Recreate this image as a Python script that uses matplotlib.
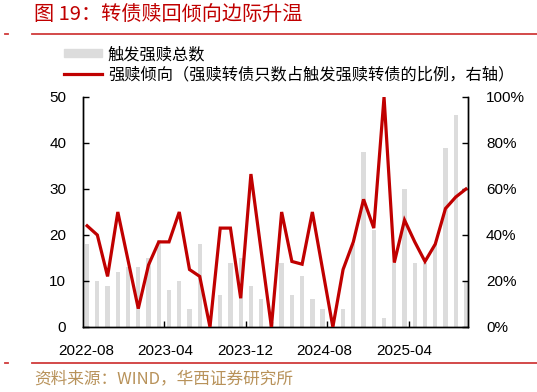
import matplotlib
matplotlib.use("Agg")
import matplotlib.pyplot as plt
import numpy as np
from matplotlib.lines import Line2D

plt.rcParams['font.family'] = ['Noto Sans CJK SC', 'DejaVu Sans']

# ---- data ----
months = ["2022-08", "2022-09", "2022-10", "2022-11", "2022-12", "2023-01", "2023-02",
          "2023-03", "2023-04", "2023-05", "2023-06", "2023-07", "2023-08", "2023-09",
          "2023-10", "2023-11", "2023-12", "2024-01", "2024-02", "2024-03", "2024-04",
          "2024-05", "2024-06", "2024-07", "2024-08", "2024-09", "2024-10", "2024-11",
          "2024-12", "2025-01", "2025-02", "2025-03", "2025-04", "2025-05", "2025-06",
          "2025-07", "2025-08", "2025-09"]
trigger_total = [18, 10, 9, 12, 13, 13, 15, 19, 8, 10, 4, 18, 1, 7, 14, 15, 9, 6, 1,
                 14, 7, 11, 6, 4, 1, 4, 18, 38, 21, 2, 14, 30, 14, 14, 18, 39, 46, 10]
redeem_ratio = [44, 40, 22, 50, 29, 8, 27, 37, 37, 50, 25, 22, 0, 43, 43, 12.5, 66.5, 33, 0,
                50, 28.5, 27.3, 50, 25, 0, 25, 37, 55.5, 43, 100, 28, 46.5, 37, 28.5, 36,
                51.5, 56.5, 60]
tick_labels = ["2022-08", "2023-04", "2023-12", "2024-08", "2025-04"]
left_ticks = [0, 10, 20, 30, 40, 50]
right_ticks = [0, 20, 40, 60, 80, 100]

title = "图 19：转债赎回倾向边际升温"
bar_label = "触发强赎总数"
line_label = "强赎倾向（强赎转债只数占触发强赎转债的比例，右轴）"
source = "资料来源：WIND，华西证券研究所"

RED = "#C00000"
W, H = 537, 392
fig = plt.figure(figsize=(W / 100, H / 100), dpi=100)

ax = fig.add_axes([83 / W, 1 - 327 / H, (468 - 83) / W, (327 - 97) / H])
x = np.arange(len(months))
ax.bar(x, trigger_total, width=0.42, color="#DCDCDC", zorder=1)
ax.set_ylim(0, 50)
ax.set_xlim(-0.4, len(months) - 1 + 0.2)
ax.set_yticks(left_ticks)

ax2 = ax.twinx()
ax2.plot(x, redeem_ratio, color=RED, lw=2.3, zorder=3, solid_joinstyle='miter')
ax2.set_ylim(0, 100)
ax2.set_yticks(right_ticks)
ax2.set_yticklabels([f"{v}%" for v in right_ticks])

lab_pos = np.arange(len(tick_labels)) * 8 * 0.97 - 0.1
ax.set_xticks(lab_pos)
ax.set_xticklabels(tick_labels)
ax.set_xticks(np.arange(1, len(tick_labels)) * 7.95 - 0.4, minor=True)

for a in (ax, ax2):
    a.spines['top'].set_visible(False)
    for s in a.spines.values():
        s.set_color("black")
        s.set_linewidth(1.0)
ax.tick_params(axis='y', direction='in', length=4, width=1, pad=12, labelsize=11)
ax2.tick_params(axis='y', direction='in', length=4, width=1, pad=13, labelsize=11)
ax.tick_params(axis='x', which='major', length=0, pad=12, labelsize=11)
ax.tick_params(axis='x', which='minor', direction='in', length=4, width=1)
for lbl in ax.get_xticklabels() + ax.get_yticklabels() + ax2.get_yticklabels():
    lbl.set_fontfamily("Liberation Sans")

# legend
handles = [plt.Rectangle((0, 0), 1, 1, color="#DCDCDC"),
           Line2D([0], [0], color=RED, lw=2.3)]
fig.legend(handles, [bar_label, line_label], loc="upper left",
           bbox_to_anchor=(64 / W, 1 - 46 / H), frameon=False,
           prop=dict(family="Noto Sans CJK SC", size=11.7),
           handlelength=2.35, handleheight=0.35, handletextpad=0.35,
           labelspacing=0.2, borderpad=0, borderaxespad=0)

# title, rules and source
fig.text(34 / W, 1 - 15 / H, title, color=RED, fontsize=14.5, va="center", ha="left")
fig.add_artist(Line2D([32 / W, 1], [1 - 34 / H] * 2, color="#D03A3A", lw=1.3))
fig.add_artist(Line2D([5 / W, 8 / W], [1 - 34 / H] * 2, color="#D03A3A", lw=1.3))
fig.add_artist(Line2D([32 / W, 1], [1 - 363 / H] * 2, color="#D03A3A", lw=1.3))
fig.add_artist(Line2D([5 / W, 8 / W], [1 - 363 / H] * 2, color="#D03A3A", lw=1.3))
fig.text(34 / W, 1 - 379 / H, source, color="#B8925A", fontsize=12, va="center", ha="left")

fig.savefig("out.png", dpi=100)
